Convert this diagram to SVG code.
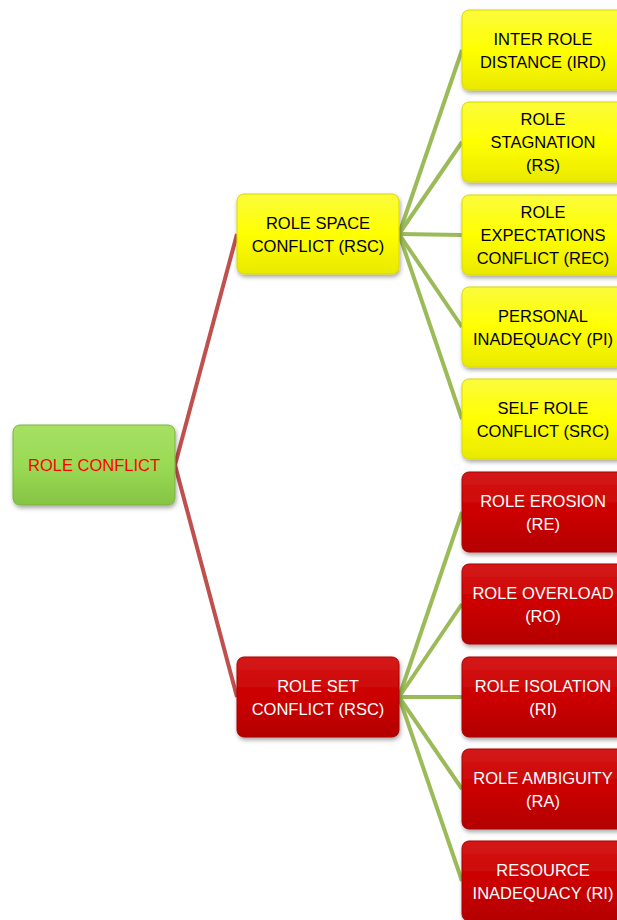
<svg xmlns="http://www.w3.org/2000/svg" width="617" height="920" viewBox="0 0 617 920">
<defs>
<linearGradient id="gy" x1="0" y1="0" x2="0" y2="1"><stop offset="0" stop-color="#fbfb3c"/><stop offset="0.5" stop-color="#ffff00"/><stop offset="1" stop-color="#e9e900"/></linearGradient>
<linearGradient id="gr" x1="0" y1="0" x2="0" y2="1"><stop offset="0" stop-color="#d41a1a"/><stop offset="0.5" stop-color="#cc0000"/><stop offset="1" stop-color="#b30000"/></linearGradient>
<linearGradient id="gg" x1="0" y1="0" x2="0" y2="1"><stop offset="0" stop-color="#a6e063"/><stop offset="0.5" stop-color="#99da55"/><stop offset="1" stop-color="#86c443"/></linearGradient>
<filter id="sh" x="-10%" y="-10%" width="125%" height="130%"><feDropShadow dx="1" dy="2.5" stdDeviation="2" flood-color="#000" flood-opacity="0.35"/></filter>
</defs>
<style>
.n rect{filter:url(#sh);}
.y rect{fill:url(#gy);stroke:#d8d800;stroke-width:1}
.r rect{fill:url(#gr);stroke:#a80000;stroke-width:1}
.g rect{fill:url(#gg);stroke:#7fb040;stroke-width:1}
text{font-family:"Liberation Sans",Arial,sans-serif;font-size:16.5px;text-anchor:middle;dominant-baseline:central}
.y text{fill:#000}
.r text{fill:#fff}
.g text{fill:#ff0000}
.c1{stroke:#c0504d;stroke-width:4;fill:none}
.c2{stroke:#9bbb59;stroke-width:4;fill:none}
</style>
<g id="connectors">
<path class="c1" d="M175 465 L237 234"/>
<path class="c1" d="M175 465 L237 697"/>
<path class="c2" d="M399 234 L462 50"/>
<path class="c2" d="M399 234 L462 142"/>
<path class="c2" d="M399 234 L462 235"/>
<path class="c2" d="M399 234 L462 327"/>
<path class="c2" d="M399 234 L462 419"/>
<path class="c2" d="M399 697 L462 512"/>
<path class="c2" d="M399 697 L462 604"/>
<path class="c2" d="M399 697 L462 697"/>
<path class="c2" d="M399 697 L462 789"/>
<path class="c2" d="M399 697 L462 881"/>
</g>
<g id="root" class="n g"><rect x="13" y="425" width="162" height="80" rx="7"/><text x="94" y="465">ROLE CONFLICT</text></g>
<g id="rsc-space" class="n y"><rect x="237" y="194" width="162" height="80" rx="7"/><text x="318" y="223">ROLE SPACE</text><text x="318" y="246">CONFLICT (RSC)</text></g>
<g id="rsc-set" class="n r"><rect x="237" y="657" width="162" height="80" rx="7"/><text x="318" y="686">ROLE SET</text><text x="318" y="709">CONFLICT (RSC)</text></g>
<g id="ird" class="n y"><rect x="462" y="10" width="162" height="80" rx="7"/><text x="543" y="39">INTER ROLE</text><text x="543" y="62">DISTANCE (IRD)</text></g>
<g id="rs" class="n y"><rect x="462" y="102" width="162" height="80" rx="7"/><text x="543" y="119">ROLE</text><text x="543" y="142">STAGNATION</text><text x="543" y="165">(RS)</text></g>
<g id="rec" class="n y"><rect x="462" y="195" width="162" height="80" rx="7"/><text x="543" y="212">ROLE</text><text x="543" y="235">EXPECTATIONS</text><text x="543" y="258">CONFLICT (REC)</text></g>
<g id="pi" class="n y"><rect x="462" y="287" width="162" height="80" rx="7"/><text x="543" y="316">PERSONAL</text><text x="543" y="339">INADEQUACY (PI)</text></g>
<g id="src" class="n y"><rect x="462" y="379" width="162" height="80" rx="7"/><text x="543" y="408">SELF ROLE</text><text x="543" y="431">CONFLICT (SRC)</text></g>
<g id="re" class="n r"><rect x="462" y="472" width="162" height="80" rx="7"/><text x="543" y="501">ROLE EROSION</text><text x="543" y="524">(RE)</text></g>
<g id="ro" class="n r"><rect x="462" y="564" width="162" height="80" rx="7"/><text x="543" y="593">ROLE OVERLOAD</text><text x="543" y="616">(RO)</text></g>
<g id="ri" class="n r"><rect x="462" y="657" width="162" height="80" rx="7"/><text x="543" y="686">ROLE ISOLATION</text><text x="543" y="709">(RI)</text></g>
<g id="ra" class="n r"><rect x="462" y="749" width="162" height="80" rx="7"/><text x="543" y="778">ROLE AMBIGUITY</text><text x="543" y="801">(RA)</text></g>
<g id="ri2" class="n r"><rect x="462" y="841" width="162" height="80" rx="7"/><text x="543" y="870">RESOURCE</text><text x="543" y="893">INADEQUACY (RI)</text></g>
</svg>
